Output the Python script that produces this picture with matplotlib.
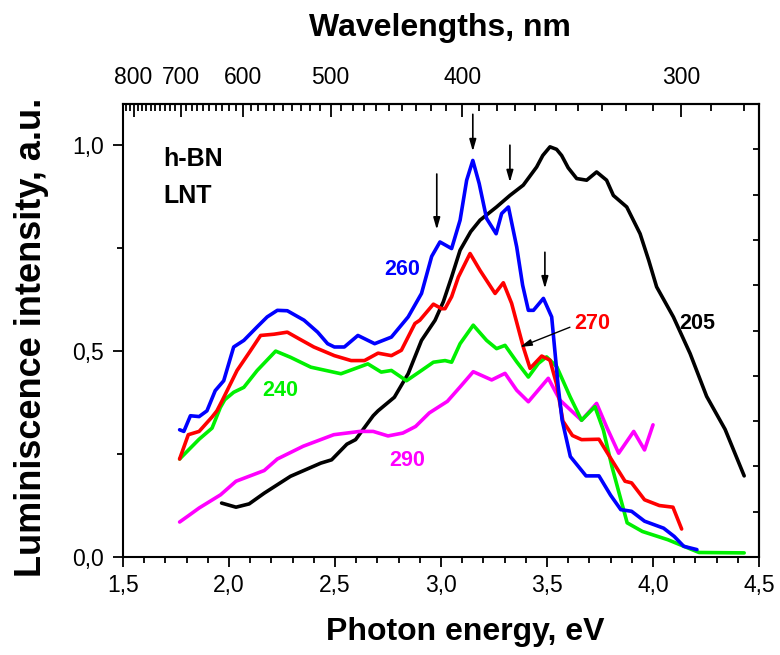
import numpy as np
import matplotlib
matplotlib.use('Agg')
from matplotlib import pyplot as plt
from matplotlib.ticker import MultipleLocator, FuncFormatter

plt.rcParams['font.family'] = ['Liberation Sans', 'DejaVu Sans']

# spectra: photon energy (eV) and intensity (a.u.)
e260 = [1.767, 1.787, 1.818, 1.859, 1.896, 1.935, 1.975, 2.022, 2.07, 2.133, 2.18, 2.228,
        2.275, 2.354, 2.418, 2.465, 2.497, 2.544, 2.608, 2.687, 2.766, 2.845, 2.908, 2.956,
        2.995, 3.05, 3.09, 3.121, 3.15, 3.18, 3.215, 3.26, 3.286, 3.318, 3.357, 3.385,
        3.412, 3.436, 3.483, 3.522, 3.553, 3.571, 3.61, 3.684, 3.745, 3.80, 3.848, 3.899,
        3.96, 4.05, 4.10, 4.145, 4.207]
i260 = [0.309, 0.305, 0.343, 0.341, 0.355, 0.404, 0.428, 0.51, 0.526, 0.559, 0.583, 0.599,
        0.598, 0.575, 0.546, 0.518, 0.51, 0.51, 0.538, 0.518, 0.534, 0.583, 0.64, 0.73,
        0.765, 0.749, 0.818, 0.915, 0.963, 0.907, 0.822, 0.785, 0.834, 0.85, 0.753, 0.66,
        0.599, 0.599, 0.628, 0.583, 0.413, 0.333, 0.244, 0.197, 0.197, 0.15, 0.115, 0.111,
        0.087, 0.07, 0.05, 0.026, 0.018]

e270 = [1.767, 1.808, 1.859, 1.92, 1.943, 1.97, 2.038, 2.10, 2.149, 2.212, 2.275, 2.33,
        2.40, 2.497, 2.576, 2.639, 2.703, 2.766, 2.813, 2.877, 2.90, 2.964, 3.003, 3.019,
        3.05, 3.082, 3.137, 3.184, 3.255, 3.294, 3.333, 3.388, 3.42, 3.475, 3.514, 3.545,
        3.575, 3.62, 3.663, 3.745, 3.80, 3.868, 3.899, 3.96, 4.03, 4.094, 4.135]
i270 = [0.238, 0.297, 0.305, 0.34, 0.355, 0.382, 0.453, 0.50, 0.538, 0.541, 0.546, 0.53,
        0.51, 0.489, 0.477, 0.477, 0.495, 0.489, 0.502, 0.567, 0.575, 0.614, 0.603, 0.603,
        0.632, 0.68, 0.737, 0.696, 0.64, 0.666, 0.616, 0.51, 0.458, 0.488, 0.478, 0.42,
        0.33, 0.295, 0.285, 0.286, 0.24, 0.184, 0.18, 0.139, 0.125, 0.121, 0.068]

e240 = [1.767, 1.859, 1.92, 1.959, 1.98, 2.022, 2.07, 2.133, 2.22, 2.29, 2.386, 2.528,
        2.655, 2.718, 2.766, 2.837, 2.908, 2.964, 3.019, 3.05, 3.09, 3.152, 3.215, 3.262,
        3.302, 3.357, 3.412, 3.459, 3.498, 3.546, 3.609, 3.663, 3.726, 3.766, 3.806, 3.878,
        3.95, 4.07, 4.217, 4.43]
i240 = [0.238, 0.286, 0.313, 0.363, 0.382, 0.40, 0.412, 0.453, 0.50, 0.485, 0.461, 0.445,
        0.469, 0.449, 0.453, 0.428, 0.453, 0.473, 0.477, 0.473, 0.518, 0.563, 0.526, 0.506,
        0.514, 0.474, 0.437, 0.47, 0.486, 0.462, 0.389, 0.332, 0.365, 0.308, 0.22, 0.083,
        0.062, 0.042, 0.011, 0.01]

e290 = [1.767, 1.808, 1.859, 1.96, 2.033, 2.115, 2.166, 2.228, 2.35, 2.494, 2.617, 2.68,
        2.75, 2.82, 2.88, 2.945, 3.03, 3.09, 3.152, 3.239, 3.302, 3.357, 3.412, 3.506,
        3.561, 3.663, 3.734, 3.781, 3.838, 3.909, 3.96, 4.0]
i290 = [0.085, 0.10, 0.119, 0.151, 0.184, 0.20, 0.21, 0.238, 0.269, 0.297, 0.305, 0.305,
        0.294, 0.301, 0.317, 0.35, 0.378, 0.413, 0.45, 0.43, 0.446, 0.405, 0.377, 0.434,
        0.381, 0.332, 0.373, 0.316, 0.252, 0.305, 0.26, 0.321]

e205 = [1.965, 2.033, 2.095, 2.166, 2.29, 2.433, 2.484, 2.556, 2.597, 2.68, 2.703, 2.78,
        2.845, 2.908, 2.972, 3.011, 3.05, 3.09, 3.14, 3.184, 3.262, 3.325, 3.388, 3.451,
        3.48, 3.514, 3.545, 3.569, 3.60, 3.64, 3.687, 3.734, 3.781, 3.813, 3.876, 3.939,
        3.98, 4.017, 4.096, 4.175, 4.253, 4.34, 4.43]
i205 = [0.131, 0.121, 0.129, 0.155, 0.196, 0.228, 0.236, 0.274, 0.285, 0.343, 0.355, 0.388,
        0.445, 0.526, 0.575, 0.62, 0.68, 0.745, 0.79, 0.818, 0.85, 0.878, 0.903, 0.947,
        0.975, 0.996, 0.99, 0.975, 0.945, 0.919, 0.915, 0.935, 0.915, 0.878, 0.85, 0.785,
        0.72, 0.656, 0.583, 0.494, 0.39, 0.31, 0.197]

# arrows marking the peaks: energy, start, end
arrow_e = [2.98, 3.15, 3.325, 3.49]
arrow_top = [0.93, 1.075, 1.0, 0.74]
arrow_bot = [0.795, 0.985, 0.91, 0.652]

nm_major = [800, 700, 600, 500, 400, 300]


def ev2nm(x):
    x = np.asarray(x, dtype=float)
    return 1239.84 / np.where(x == 0, 1e-9, x)


def comma(v, pos):
    return ('%.1f' % v).replace('.', ',')


fig = plt.figure(figsize=(7.8, 6.55), dpi=100)
ax = fig.add_axes([0.1577, 0.1496, 0.8154, 0.6916])

lw = 2.6
for e, i, c in [(e205, i205, 'black'), (e290, i290, '#ff00ff'), (e240, i240, '#00f000'),
                (e270, i270, '#ff0000'), (e260, i260, '#0000ff')]:
    ax.plot(e, i, color=c, lw=lw, solid_joinstyle='round', solid_capstyle='round')

ax.set_xlim(1.5, 4.5)
ax.set_ylim(0, 1.1)
ax.xaxis.set_major_locator(MultipleLocator(0.5))
ax.xaxis.set_minor_locator(MultipleLocator(0.1))
ax.yaxis.set_major_locator(MultipleLocator(0.5))
ax.yaxis.set_minor_locator(MultipleLocator(0.25))
ax.xaxis.set_major_formatter(FuncFormatter(comma))
ax.yaxis.set_major_formatter(FuncFormatter(comma))
ax.tick_params(which='both', direction='out', top=False, right=False, labelsize=16.5, width=1.3)
ax.tick_params(which='major', length=7)
ax.tick_params(which='minor', length=4)
ax.tick_params(axis='y', pad=7)
ax.tick_params(axis='x', pad=5)
for s in ax.spines.values():
    s.set_linewidth(1.5)

# wavelength scale on top
top = ax.secondary_xaxis('top', functions=(ev2nm, ev2nm))
top.set_xticks(nm_major)
top.set_xticks(np.arange(280, 830, 10), minor=True)
top.xaxis.set_major_formatter(FuncFormatter(lambda v, p: '%d' % v))
top.tick_params(which='both', direction='in', labelsize=16.5, width=1.3, pad=11)
top.tick_params(which='major', length=9)
top.tick_params(which='minor', length=5)
top.spines['top'].set_linewidth(1.5)

right = ax.secondary_yaxis('right')
right.set_yticks(np.linspace(0, 1.1, 11))
right.set_yticklabels([])
right.tick_params(direction='in', length=4, width=1.3)
right.spines['right'].set_linewidth(1.5)

for e, y0, y1 in zip(arrow_e, arrow_top, arrow_bot):
    ax.annotate('', xy=(e, y1), xytext=(e, y0),
                arrowprops=dict(arrowstyle='-|>,head_length=0.7,head_width=0.2',
                                color='black', lw=1.2, shrinkA=0, shrinkB=0))
ax.annotate('', xy=(3.373, 0.51), xytext=(3.608, 0.558),
            arrowprops=dict(arrowstyle='-|>,head_length=0.7,head_width=0.2',
                            color='black', lw=1.0, shrinkA=0, shrinkB=0))

ax.text(1.689, 0.966, 'h-BN', fontsize=18, fontweight='bold', ha='left', va='center')
ax.text(1.689, 0.876, 'LNT', fontsize=18, fontweight='bold', ha='left', va='center')
lab = dict(fontsize=15.5, fontweight='bold', ha='center', va='center')
ax.text(2.816, 0.699, '260', color='#0000ff', **lab)
ax.text(2.24, 0.405, '240', color='#00f000', **lab)
ax.text(2.84, 0.235, '290', color='#ff00ff', **lab)
ax.text(3.712, 0.566, '270', color='#ff0000', **lab)
ax.text(4.208, 0.568, '205', color='black', **lab)

fig.text(465 / 780, 1 - 632 / 655, 'Photon energy, eV', fontsize=23, fontweight='bold',
         ha='center', va='center')
fig.text(440 / 780, 1 - 28 / 655, 'Wavelengths, nm', fontsize=23, fontweight='bold',
         ha='center', va='center')
fig.text(32 / 780, 1 - 337 / 655, 'Luminiscence intensity, a.u.', fontsize=26, fontweight='bold',
         ha='center', va='center', rotation=90)

fig.savefig('out.png', dpi=100)
